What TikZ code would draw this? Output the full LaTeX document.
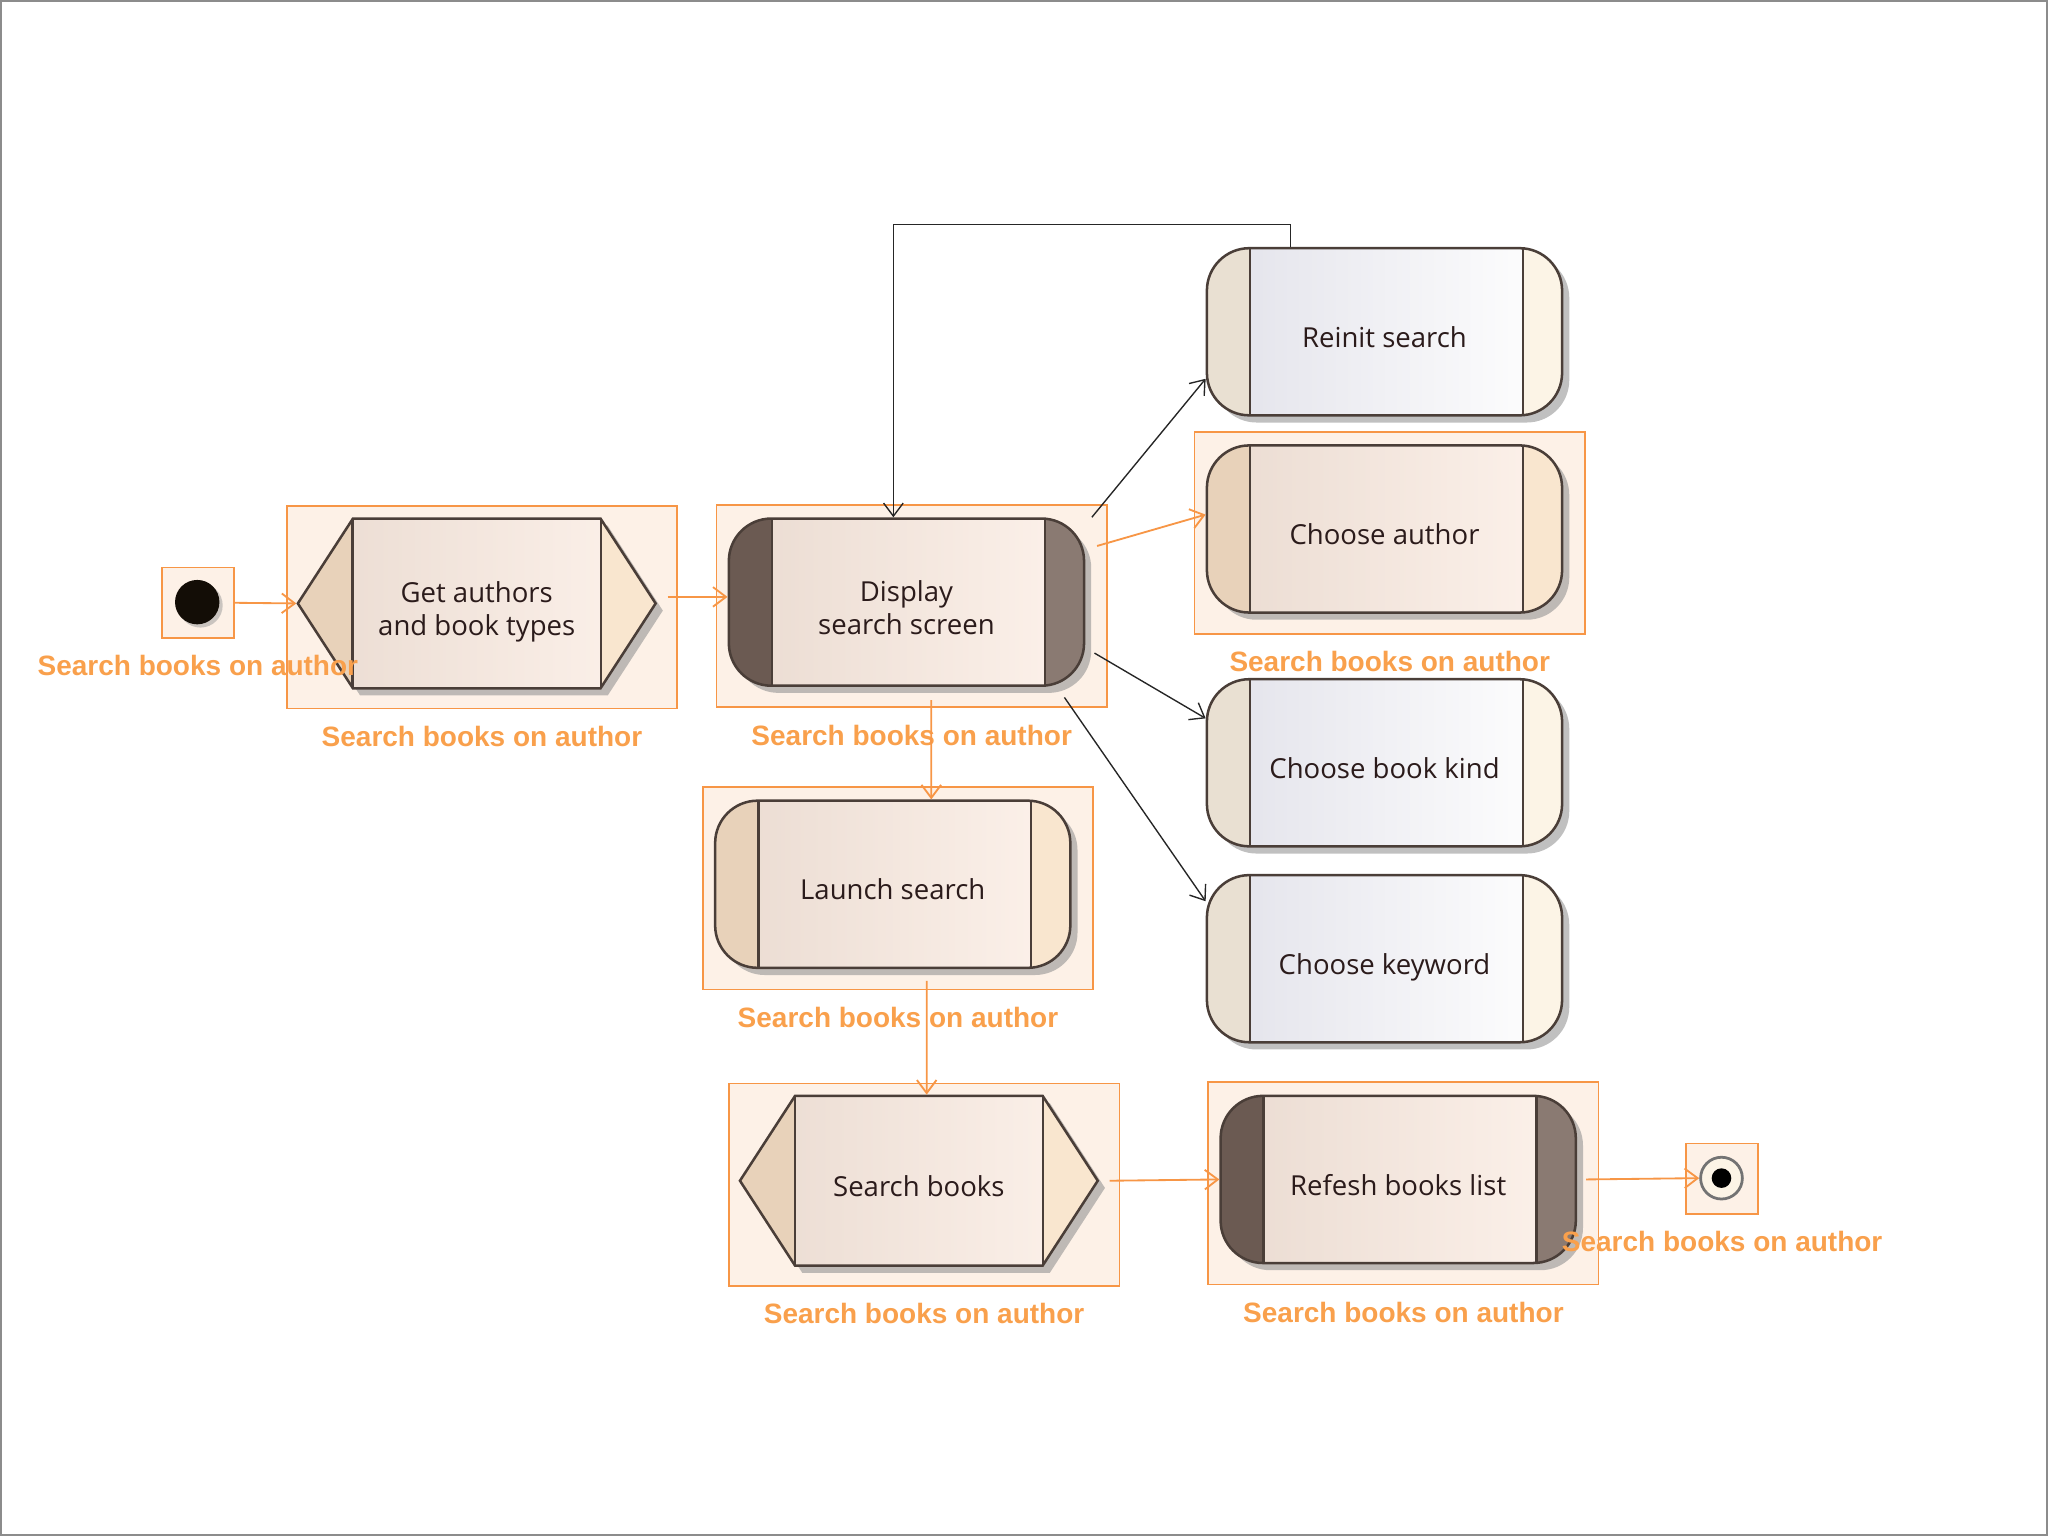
\documentclass[tikz,border=0pt]{standalone}
\usepackage{fontspec}
\setmainfont{Open Sans}
\newfontfamily\capfont{Liberation Sans}
\usepackage{tikz}
\usetikzlibrary{positioning,arrows.meta,shapes.symbols,shadows,backgrounds,calc}
\definecolor{edge}{HTML}{4A3E38}
\definecolor{orangeline}{HTML}{F79646}
\definecolor{captext}{HTML}{F9A04C}
\definecolor{partfill}{HTML}{FDF1E7}
\definecolor{tanL}{HTML}{E8D2BA}
\definecolor{tanR}{HTML}{F9E6CF}
\definecolor{warmL}{HTML}{EADBD1}
\definecolor{warmR}{HTML}{FDF2EB}
\definecolor{greyL}{HTML}{E2E2EA}
\definecolor{greyR}{HTML}{FFFFFF}
\definecolor{paleL}{HTML}{E9E0D2}
\definecolor{paleR}{HTML}{FCF4E6}
\definecolor{darkL}{HTML}{6B5A52}
\definecolor{darkR}{HTML}{8A7A72}
\definecolor{textcol}{HTML}{2B1B1B}
\tikzset{
  oneline/.style={text height=16.6pt, text depth=3pt},
  twoline/.style={text height=30.8pt, text depth=3pt},
  action/.style 2 args={
    draw=edge,
    line width=1.1pt,
    rounded corners=0.65cm,
    minimum width=5.44cm,
    minimum height=2.56cm,
    inner sep=0pt,
    align=center,
    text=textcol,
    font=\fontsize{12}{14.2}\selectfont,
    oneline,
    drop shadow={shadow xshift=0.11cm, shadow yshift=-0.11cm, fill=black!45, opacity=0.55},
    path picture={
      \fill[#1, sharp corners] (path picture bounding box.south west) rectangle ([xshift=0.66cm]path picture bounding box.north west);
      \fill[#2, sharp corners] ([xshift=-0.6cm]path picture bounding box.south east) rectangle (path picture bounding box.north east);
      \draw[edge, line width=1.1pt, sharp corners]
        ([xshift=0.66cm]path picture bounding box.south west) -- ([xshift=0.66cm]path picture bounding box.north west)
        ([xshift=-0.6cm]path picture bounding box.south east) -- ([xshift=-0.6cm]path picture bounding box.north east);
    },
  },
  warm/.style={action={tanL}{tanR}, left color=warmL, right color=warmR},
  cool/.style={action={paleL}{paleR}, left color=greyL, right color=greyR},
  busy/.style={action={darkL}{darkR}, left color=warmL, right color=warmR},
  hexact/.style={
    signal,
    signal to=west and east,
    signal pointer angle=114,
    draw=edge,
    line width=1.1pt,
    minimum width=5.48cm,
    minimum height=2.6cm,
    inner sep=0pt,
    align=center,
    text=textcol,
    font=\fontsize{12}{14.2}\selectfont,
    oneline,
    left color=warmL,
    right color=warmR,
    drop shadow={shadow xshift=0.11cm, shadow yshift=-0.11cm, fill=black!45, opacity=0.55},
    path picture={
      \fill[tanL] (path picture bounding box.south west) rectangle ([xshift=0.84cm]path picture bounding box.north west);
      \fill[tanR] ([xshift=-0.84cm]path picture bounding box.south east) rectangle (path picture bounding box.north east);
      \draw[edge, line width=1.1pt]
        ([xshift=0.84cm]path picture bounding box.south west) -- ([xshift=0.84cm]path picture bounding box.north west)
        ([xshift=-0.84cm]path picture bounding box.south east) -- ([xshift=-0.84cm]path picture bounding box.north east);
    },
  },
  part/.style={
    draw=orangeline,
    fill=partfill,
    line width=0.7pt,
    minimum width=5.98cm,
    minimum height=3.1cm,
    inner sep=0pt,
  },
  smallpart/.style={part, minimum width=1.1cm, minimum height=1.08cm},
  startstate/.style={circle, fill=black!90!brown, minimum size=0.68cm, inner sep=0pt,
    drop shadow={shadow xshift=0.05cm, shadow yshift=-0.05cm, fill=black!40, opacity=0.5}},
  endstate/.style={circle, draw=black!55, fill=paleR, line width=1.2pt, minimum size=0.64cm, inner sep=0pt,
    path picture={\fill[black] (path picture bounding box.center) circle (0.15cm);}},
  partlabel/.style={text=captext, font=\capfont\bfseries\fontsize{12.2}{14}\selectfont, inner sep=0pt},
  flow/.style={draw=orangeline, line width=0.8pt, -{Straight Barb[length=0.2cm,width=0.3cm]}},
  link/.style={draw=black!85, line width=0.6pt, -{Straight Barb[length=0.2cm,width=0.3cm]}},
}
\begin{document}
\begin{tikzpicture}[x=0.02cm, y=-0.02cm]
  \useasboundingbox (0,0) rectangle (1568,1176);
  % states and actions
  \node[startstate] (init) at (151,461) {};
  \node[hexact, twoline] (get) at (365,462) {Get authors\\and book types};
  \node[busy, twoline] (disp) at (694,461) {Display\\search screen};
  \node[cool] (reinit) at (1060,254) {Reinit search};
  \node[warm] (author) at (1060,405) {Choose author};
  \node[cool] (kind) at (1060,584) {Choose book kind};
  \node[cool] (keyword) at (1060,734) {Choose keyword};
  \node[warm] (launch) at (683.5,677) {Launch search};
  \node[hexact] (sbooks) at (703.5,904) {Search books};
  \node[busy] (refresh) at (1070.5,903) {Refesh books list};
  \node[endstate] (final) at (1318,902) {};
  % partitions
  \begin{scope}[on background layer]
    \draw[black!45, line width=0.8pt] (1,1) rectangle (1567,1175);
    \node[smallpart] (pinit) at (151.5,461.5) {};
    \node[smallpart] (pfinal) at (1318.5,902.5) {};
    \foreach \n in {get,disp,author,launch,sbooks,refresh}
      \node[part] (p\n) at ([shift={(4,3)}]\n) {};
  \end{scope}
  \foreach \n in {init,final,get,disp,author,launch,sbooks,refresh}
    \node[partlabel, below=0.25cm of p\n] (c\n) {Search books on author};
  % transitions
  \draw[flow] (pinit.east) -- (get.west);
  \draw[flow] ([shift={(8,-5)}]get.east) -- ([shift={(0,-4)}]disp.west);
  \draw[flow] ([shift={(19,10)}]disp.south) -- ([xshift=0.38cm]disp.south |- launch.north);
  \draw[flow] ([shift={(26,9)}]launch.south) -- ([xshift=0.52cm]launch.south |- sbooks.north);
  \draw[flow] ([xshift=0.16cm]sbooks.east) -- (refresh.west);
  \draw[flow] ([xshift=0.14cm]refresh.east) -- (final.west);
  \draw[flow] ([shift={(9,-43)}]disp.east) -- ([shift={(0,-11)}]author.west);
  \draw[link] ([shift={(5,0)}]disp.north east) -- ([shift={(0,36)}]reinit.west);
  \draw[link] ([shift={(7,39)}]disp.east) -- ([shift={(0,-34)}]kind.west);
  \draw[link] ([shift={(-16,8)}]disp.south east) -- ([shift={(0,-44)}]keyword.west);
  \draw[link] ([xshift=-1.44cm]reinit.north) -- ++(0,0.34cm) -| ([xshift=-0.2cm]disp.north);
\end{tikzpicture}
\end{document}
